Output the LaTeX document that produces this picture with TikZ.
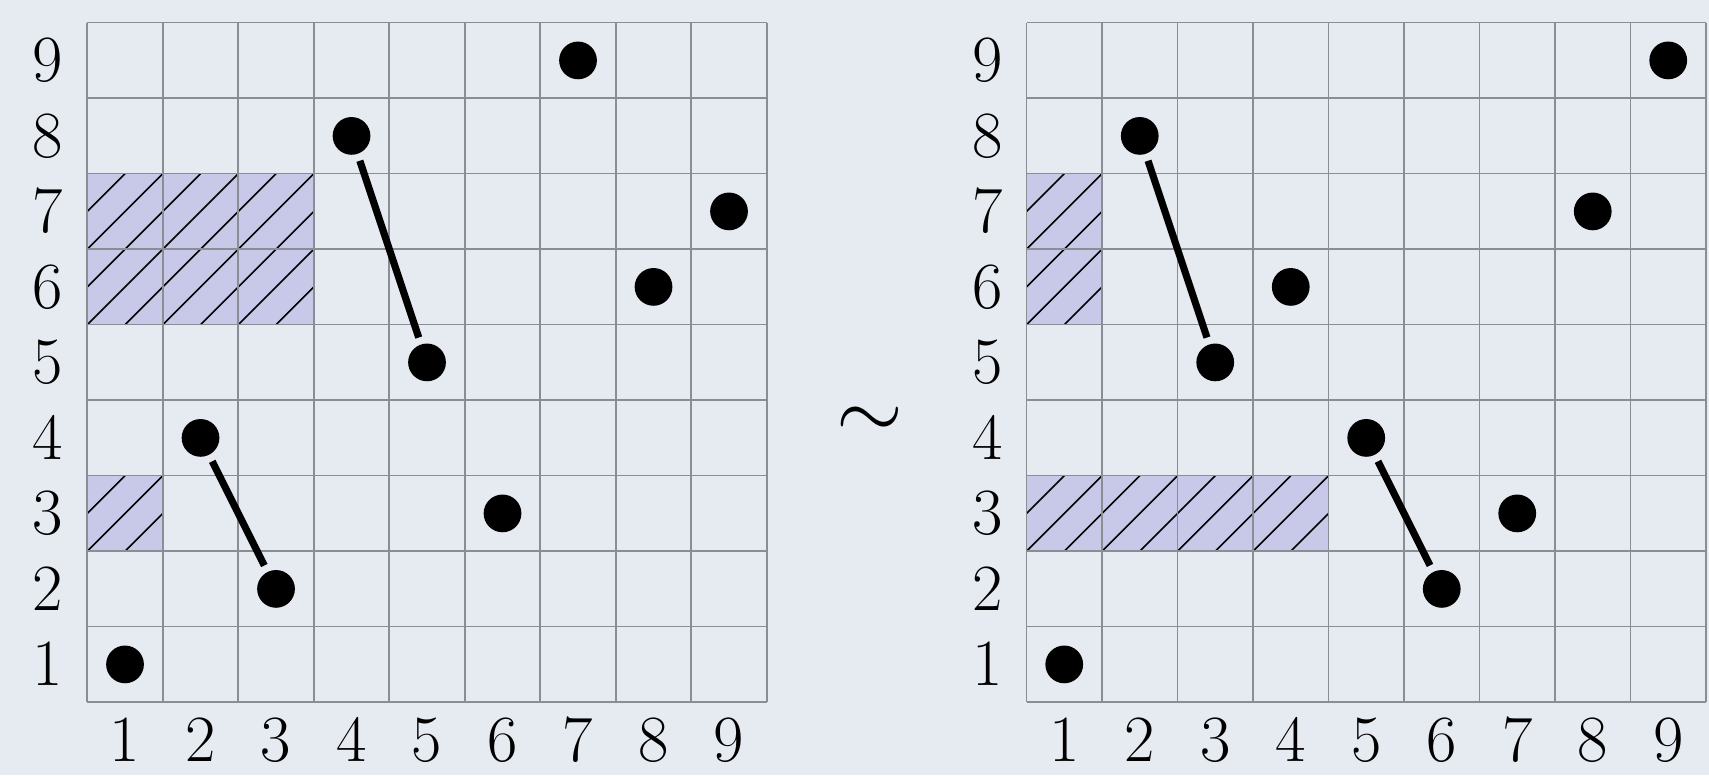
\documentclass[tikz,border=0pt]{standalone}
\definecolor{bgc}{RGB}{230,234,241}
\definecolor{hatchfill}{RGB}{200,200,232}
\definecolor{gridc}{RGB}{138,142,148}
\tikzset{
  dot/.style={circle,fill=black,inner sep=0pt,minimum size=0.5cm},
  seg/.style={line width=2.7pt,shorten >=0.09cm,shorten <=0.09cm},
  lbl/.style={inner sep=0pt,font=\fontsize{26}{30}\selectfont},
  gridline/.style={draw=gridc,line width=0.6pt},
  hatchline/.style={draw=black,line width=0.6pt}
}
\newcommand{\hcell}[2]{%
  \fill[hatchfill] (#1,#2) rectangle ++(1,1);
  \draw[hatchline] (#1,#2) -- ++(1,1);
  \draw[hatchline] (#1+0.5,#2) -- ++(0.5,0.5);
  \draw[hatchline] (#1,#2+0.5) -- ++(0.5,0.5);
}
\begin{document}
\begin{tikzpicture}
\fill[bgc] (-1.156,-0.965) rectangle (21.48,9.30);
\useasboundingbox (-1.156,-0.965) rectangle (21.48,9.30);
% left grid
\foreach \c in {0,1,2}{\foreach \r in {5,6}{\hcell{\c}{\r}}}
\hcell{0}{2}
\draw[gridline] (0,0) grid (9,9);
% right grid
\begin{scope}[xshift=12.44cm]
\hcell{0}{5}\hcell{0}{6}
\foreach \c in {0,1,2,3}{\hcell{\c}{2}}
\draw[gridline] (0,0) grid (9,9);
\end{scope}
% labels
\foreach \k in {1,...,9}{
  \node[lbl] (LX\k) at (\k-0.5,-0.5) {$\k$};
  \node[lbl] (LY\k) at (-0.52,\k-0.5) {$\k$};
  \node[lbl] (RX\k) at (12.44+\k-0.5,-0.5) {$\k$};
  \node[lbl] (RY\k) at (12.44-0.52,\k-0.5) {$\k$};
}
\node[lbl,scale=1.3] (sim) at (10.37,3.7) {$\sim$};
% left dots
\foreach \i/\j in {1/1,2/4,3/2,4/8,5/5,6/3,7/9,8/6,9/7}{
  \node[dot] (L\i) at (\i-0.5,\j-0.5) {};
}
% right dots
\foreach \i/\j in {1/1,2/8,3/5,4/6,5/4,6/2,7/3,8/7,9/9}{
  \node[dot] (R\i) at (12.44+\i-0.5,\j-0.5) {};
}
\draw[seg] (L2) -- (L3);
\draw[seg] (L4) -- (L5);
\draw[seg] (R2) -- (R3);
\draw[seg] (R5) -- (R6);
\end{tikzpicture}
\end{document}
